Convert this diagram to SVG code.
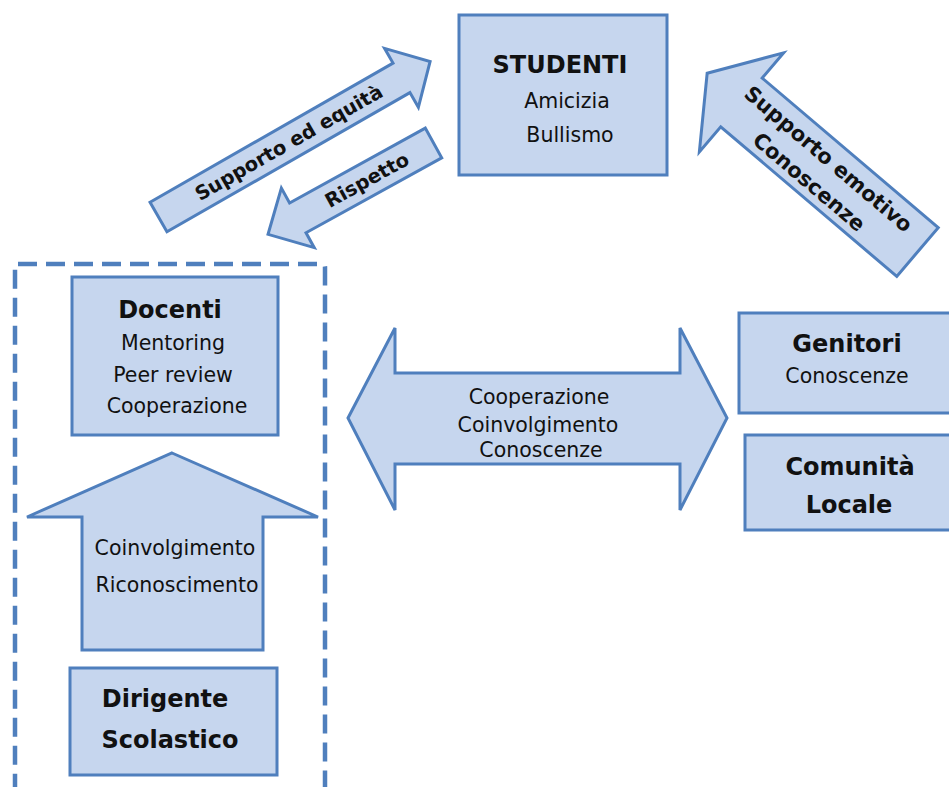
<svg xmlns="http://www.w3.org/2000/svg" width="949" height="787" viewBox="0 0 949 787">
<style>
.shape{fill:#c6d6ee;stroke:#4f7fbd;stroke-width:3;stroke-linejoin:miter}
.t{font-family:"DejaVu Sans","Liberation Sans",sans-serif;fill:#111;text-anchor:middle}
.b{font-weight:bold}
.r{font-size:20.5px}
.h{font-size:24px}
.a{font-size:19.5px;font-weight:bold}
</style>
<rect width="949" height="787" fill="#ffffff"/>
<rect x="15" y="264" width="310" height="560" rx="3" fill="none" stroke="#4f7fbd" stroke-width="4.5" stroke-dasharray="19 9"/>
<g id="connectors">
  <g id="arrow-supporto-equita" transform="translate(158.5,217) rotate(-29.8)">
    <polygon class="shape" points="0,-17 280,-17 280,-34 313,0 280,34 280,17 0,17"/>
    <text class="t a" x="150" y="7">Supporto ed equità</text>
  </g>
  <g id="arrow-rispetto" transform="translate(433.5,143) rotate(-28.9)">
    <polygon class="shape" points="0,-17 -155,-17 -155,-34 -189,0 -155,34 -155,17 0,17"/>
    <text class="t a" x="-76" y="7">Rispetto</text>
  </g>
  <g id="arrow-supporto-emotivo" transform="translate(917.5,252) rotate(40.35)">
    <polygon class="shape" points="0,-32 -231,-32 -231,-65 -276,0 -231,65 -231,32 0,32"/>
    <text class="t a" x="-128" y="-6" style="font-size:21px">Supporto emotivo</text>
    <text class="t a" x="-128" y="24" style="font-size:21px">Conoscenze</text>
  </g>
  <g id="arrow-cooperazione">
    <polygon class="shape" points="348,418 395,328 395,373 680,373 680,328 727,418 680,510 680,464 395,464 395,510"/>
    <text class="t r" x="539" y="404">Cooperazione</text>
    <text class="t r" x="538" y="432">Coinvolgimento</text>
    <text class="t r" x="541" y="457">Conoscenze</text>
  </g>
  <g id="arrow-coinvolgimento">
    <polygon class="shape" points="172,453 318,517 263,517 263,650 82,650 82,517 27,517"/>
    <text class="t r" x="175" y="555">Coinvolgimento</text>
    <text class="t r" x="177" y="592">Riconoscimento</text>
  </g>
</g>
<g id="studenti">
  <rect class="shape" x="459" y="15" width="208" height="160"/>
  <text class="t b h" x="560" y="73">STUDENTI</text>
  <text class="t r" x="567" y="108">Amicizia</text>
  <text class="t r" x="570" y="142">Bullismo</text>
</g>
<g id="docenti">
  <rect class="shape" x="72" y="277" width="206" height="158"/>
  <text class="t b h" x="170" y="318">Docenti</text>
  <text class="t r" x="173" y="350">Mentoring</text>
  <text class="t r" x="173" y="382">Peer review</text>
  <text class="t r" x="177" y="413">Cooperazione</text>
</g>
<g id="dirigente">
  <rect class="shape" x="70" y="668" width="207" height="107"/>
  <text class="t b h" x="165" y="707">Dirigente</text>
  <text class="t b h" x="170" y="748">Scolastico</text>
</g>
<g id="genitori">
  <rect class="shape" x="739" y="313" width="240" height="100"/>
  <text class="t b h" x="847" y="352">Genitori</text>
  <text class="t r" x="847" y="383">Conoscenze</text>
</g>
<g id="comunita">
  <rect class="shape" x="745" y="435" width="240" height="95"/>
  <text class="t b h" x="850" y="475">Comunità</text>
  <text class="t b h" x="849" y="513">Locale</text>
</g>
</svg>
